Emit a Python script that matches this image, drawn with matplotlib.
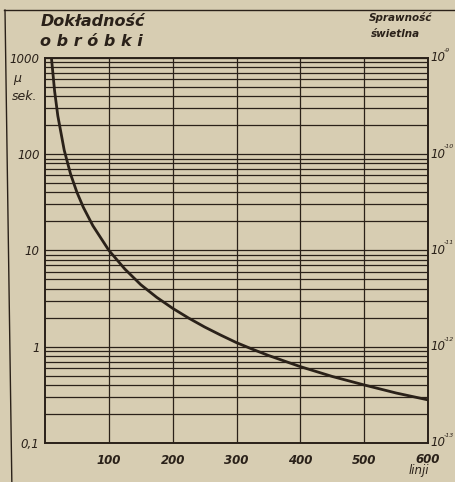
import numpy as np
import matplotlib
matplotlib.use('Agg')
import matplotlib.pyplot as plt
from matplotlib.lines import Line2D

# values
linji = [10, 15, 20, 30, 40, 50, 60, 75, 100, 125, 150, 175, 200, 225, 250, 275,
         300, 325, 350, 400, 450, 500, 550, 600]
dokladnosc = [1000, 450, 250, 110, 62, 40, 28, 18, 10, 6.4, 4.4, 3.25, 2.5, 1.98,
              1.6, 1.32, 1.1, 0.94, 0.81, 0.62, 0.49, 0.4, 0.33, 0.28]

x_ticks = [100, 200, 300, 400, 500]
y_ticks = [1000, 100, 10, 1, 0.1]
y_labels = ['1000', '100', '10', '1', '0,1']
r_ticks = [1e-9, 1e-10, 1e-11, 1e-12, 1e-13]
r_exp = ['-9', '-10', '-11', '-12', '-13']

paper = '#d7cdb2'
ink = '#2a2119'

plt.rcParams['font.family'] = ['DejaVu Sans']

fig = plt.figure(figsize=(4.55, 4.82), dpi=100, facecolor=paper)
ax = fig.add_axes([0.099, 0.081, 0.842, 0.799])
ax.set_facecolor(paper)

ax.set_yscale('log')
ax.set_xlim(0, 600)
ax.set_ylim(0.1, 1000)

ax.set_xticks(x_ticks)
ax.set_xticklabels([str(v) for v in x_ticks], fontstyle='italic', fontsize=8.5,
                   fontweight='bold', color=ink)
ax.set_yticks(y_ticks)
ax.set_yticklabels(y_labels, fontstyle='italic', fontsize=8.5, color=ink)
ax.yaxis.set_minor_locator(matplotlib.ticker.LogLocator(base=10, subs=np.arange(2, 10)))
ax.yaxis.set_minor_formatter(matplotlib.ticker.NullFormatter())
ax.tick_params(axis='both', which='both', length=0, pad=4)
ax.tick_params(axis='x', pad=8)

ax.grid(True, which='both', axis='y', color=ink, linewidth=0.9)
ax.grid(True, which='major', axis='x', color=ink, linewidth=0.9)
for s in ax.spines.values():
    s.set_color(ink)
    s.set_linewidth(1.4)

ax.plot(linji, dokladnosc, color=ink, linewidth=2.0)

# right axis - sprawnosc swietlna (1000 -> 1e-9 ... 0.1 -> 1e-13)
ax2 = ax.twinx()
ax2.set_yscale('log')
ax2.set_ylim(1e-13, 1e-9)
ax2.set_yticks([])
ax2.yaxis.set_minor_locator(matplotlib.ticker.NullLocator())
for s in ax2.spines.values():
    s.set_visible(False)
tr = ax2.get_yaxis_transform()
for v, e in zip(r_ticks, r_exp):
    ax2.annotate('10', xy=(1.0, v), xycoords=tr, xytext=(1.5, 0),
                 textcoords='offset points', fontsize=8.5, fontstyle='italic',
                 color=ink, ha='left', va='center', annotation_clip=False)
    ax2.annotate(e, xy=(1.0, v), xycoords=tr, xytext=(10.9, 3.6),
                 textcoords='offset points', fontsize=4.5, fontstyle='italic',
                 color=ink, ha='left', va='bottom', annotation_clip=False)

fig.text(0.089, 0.955, 'Dokładność', fontsize=11.5, fontstyle='italic',
         fontweight='bold', color=ink, ha='left', va='center')
fig.text(0.089, 0.913, 'o b r ó b k i', fontsize=11.5, fontstyle='italic',
         fontweight='bold', color=ink, ha='left', va='center')
fig.text(0.81, 0.963, 'Sprawność', fontsize=7.5, fontstyle='italic',
         fontweight='bold', color=ink, ha='left', va='center')
fig.text(0.815, 0.93, 'świetlna', fontsize=7.5, fontstyle='italic',
         fontweight='bold', color=ink, ha='left', va='center')
fig.text(0.03, 0.838, 'μ', fontsize=9, fontstyle='italic', color=ink, va='center')
fig.text(0.025, 0.80, 'sek.', fontsize=9, fontstyle='italic', color=ink, va='center')
fig.text(0.94, 0.047, '600', fontsize=8.5, fontstyle='italic', fontweight='bold',
         color=ink, ha='center', va='center')
fig.text(0.92, 0.024, 'linji', fontsize=8.5, fontstyle='italic', color=ink,
         ha='center', va='center')

# frame of the printed page
fig.add_artist(Line2D([0.009, 1.0], [0.979, 0.979], color=ink, linewidth=1.0))
fig.add_artist(Line2D([0.011, 0.026], [0.979, 0.0], color=ink, linewidth=1.0))

fig.savefig('out.png', dpi=100, facecolor=paper)
